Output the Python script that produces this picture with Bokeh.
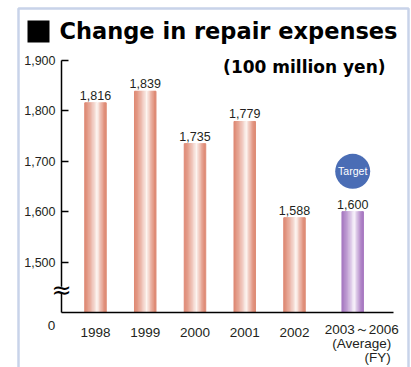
from bokeh.plotting import figure
from bokeh.models import (ColumnDataSource, Label, BoxAnnotation, FixedTicker,
                          NumeralTickFormatter)
from bokeh.core.properties import value
from bokeh.embed import file_html
from bokeh.resources import INLINE

# ---------------- data ----------------
categories = ["1998", "1999", "2000", "2001", "2002", "2003～2006"]
expenses = [1816, 1839, 1735, 1779, 1588, 1600]
target_flags = [False, False, False, False, False, True]
y_ticks = [1500, 1600, 1700, 1800, 1900]
title_text = "Change in repair expenses"
unit_text = "(100 million yen)"
last_sub1 = "(Average)"
last_sub2 = "(FY)"
target_text = "Target"
zero_text = "0"

# ---------------- layout / style ----------------
x_pos = [0, 1, 2, 3, 4, 5.17]
bar_w = 0.43
base = 1400          # value drawn at the broken baseline ("0")
y_top = 1900
FONT = "Liberation Sans"
BOLD = "DejaVu Sans"
TXT = "#231f20"
BLUE = "#4a6db5"

# axis extents (data units) and whole-canvas ranges
ax_left, ax_right = -0.6834, 5.99
xr = (-1.9095, 6.3518)
yr = (1290.9, 2019.0)

p = figure(width=411, height=367, x_range=xr, y_range=yr,
           output_backend="svg", toolbar_location=None, min_border=0,
           background_fill_color="white", border_fill_color="white")
p.outline_line_color = None
p.grid.visible = False

# gradient bars built from narrow strips
N = 16
def mix(c1, c2, f):
    return "#%02x%02x%02x" % tuple(int(round(a + (b - a) * f)) for a, b in zip(c1, c2))

salmon = (222, 136, 114)
purple = (166, 118, 192)
white = (253, 246, 243)
white_p = (249, 244, 252)
xs, tops, cols, ws = [], [], [], []
for xp, v, t in zip(x_pos, expenses, target_flags):
    edge = purple if t else salmon
    hi = white_p if t else white
    for j in range(N):
        u = (j + 0.5) / N
        peak = 0.6
        f = 1 - (peak - u) / peak if u < peak else 1 - (u - peak) / (1 - peak)
        f = f ** 1.3
        xs.append(xp - bar_w / 2 + u * bar_w)
        tops.append(v)
        cols.append(mix(edge, hi, f))
        ws.append(bar_w / N * 1.08)
strips = ColumnDataSource(dict(x=xs, top=tops, color=cols, w=ws))
p.vbar(x="x", top="top", bottom=base, width="w", color="color", source=strips)

# value labels
lab_src = ColumnDataSource(dict(x=x_pos, y=expenses,
                                t=["{:,}".format(v) for v in expenses]))
p.text(x="x", y="y", text="t", source=lab_src, text_align="center",
       text_baseline="bottom", y_offset=-3, text_font=value(FONT),
       text_font_size="12.5px", text_color=TXT)

# Target marker
tx = [x for x, t in zip(x_pos, target_flags) if t]
ty = [v + 80 for v, t in zip(expenses, target_flags) if t]
tsrc = ColumnDataSource(dict(x=tx, y=ty, t=[target_text] * len(tx)))
p.scatter(x="x", y="y", size=35, marker="circle", fill_color=BLUE,
          line_color=None, source=tsrc)
p.text(x="x", y="y", text="t", source=tsrc, text_align="center",
       text_baseline="middle", text_font=value(FONT), text_font_size="10.5px",
       text_color="white")

# axes (fixed at the baseline / left edge so the frame covers the canvas)
yax = p.yaxis[0]
yax.fixed_location = ax_left
yax.bounds = (base, y_top)
yax.ticker = FixedTicker(ticks=y_ticks)
yax.formatter = NumeralTickFormatter(format="0,0")
yax.major_tick_in = 7
yax.major_tick_out = 0
yax.minor_tick_line_color = None
yax.axis_line_width = 1.5
yax.major_tick_line_width = 1.5
yax.axis_line_color = "black"
yax.major_tick_line_color = "black"
yax.major_label_standoff = 6
yax.major_label_text_font = FONT
yax.major_label_text_font_size = "12.5px"
yax.major_label_text_color = TXT

xax = p.xaxis[0]
xax.fixed_location = base
xax.bounds = (ax_left, ax_right)
xax.ticker = FixedTicker(ticks=list(range(5)))
xax.major_label_overrides = {i: c for i, c in zip(range(5), categories[:5])}
xax.major_tick_line_color = None
xax.minor_tick_line_color = None
xax.axis_line_width = 1.5
xax.axis_line_color = "black"
xax.major_label_standoff = 9
xax.major_label_text_font = FONT
xax.major_label_text_font_size = "13.5px"
xax.major_label_text_color = TXT

# last category label (multi-line) and zero label
extra = ColumnDataSource(dict(
    x=[x_pos[5], x_pos[5], x_pos[5], ax_left],
    y=[base] * 4,
    t=[categories[5], last_sub1, last_sub2, zero_text],
    dx=[9, 9, 38, -10],
    dy=[9, 23, 37, 8],
    al=["center", "center", "right", "center"]))
p.text(x="x", y="y", text="t", x_offset="dx", y_offset="dy", text_align="al",
       text_baseline="top", source=extra, text_font=value(FONT),
       text_font_size="13.5px", text_color=TXT)

# axis break
p.add_layout(BoxAnnotation(left=ax_left - 0.06, right=ax_left + 0.06,
                           top=1451, bottom=1438, fill_color="white",
                           fill_alpha=1, line_color=None))
brk = p.text(x=[ax_left], y=[1444], text=["≈"], text_align="center",
             text_baseline="middle", text_font=value("DejaVu Sans"),
             text_font_size="24px", text_color="black")
brk.level = "overlay"

# frame border, title, unit
p.add_layout(BoxAnnotation(left=18, right=408, top=8, bottom=400,
                           left_units="canvas", right_units="canvas",
                           top_units="canvas", bottom_units="canvas",
                           fill_color=None, line_color=BLUE, line_width=2.5))
p.add_layout(BoxAnnotation(left=27, right=49, top=20, bottom=42,
                           left_units="canvas", right_units="canvas",
                           top_units="canvas", bottom_units="canvas",
                           fill_color="black", fill_alpha=1, line_color=None))
p.add_layout(Label(x=59, y=30, x_units="canvas", y_units="canvas",
                   text=title_text, text_baseline="alphabetic",
                   text_font=BOLD, text_font_style="bold",
                   text_font_size="22.5px", text_color="black"))
p.add_layout(Label(x=385, y=66, x_units="canvas", y_units="canvas",
                   text=unit_text, text_align="right", text_baseline="alphabetic",
                   text_font=BOLD, text_font_style="bold",
                   text_font_size="17px", text_color="black"))

open("out.html", "w").write(file_html(p, INLINE))
